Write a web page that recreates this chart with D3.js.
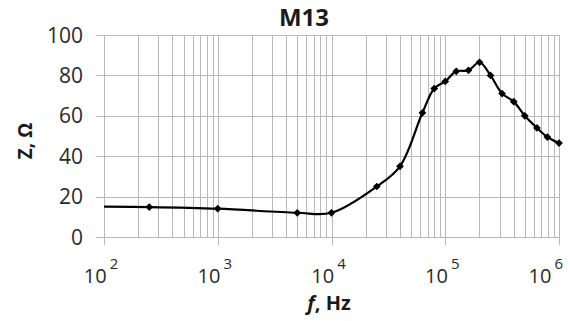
<!DOCTYPE html>
<html>
<head>
<meta charset="utf-8">
<script src="https://cdn.jsdelivr.net/npm/d3@7"></script>
<style>
  body { margin: 0; background: #fff; }
  text { font-family: "Open Sans", "Liberation Sans", sans-serif; fill: #1a1a1a; }
</style>
</head>
<body>
<div id="chart"></div>
<script>
// data
const freq = [100, 250, 1000, 5000, 10000, 25000, 40000, 63000, 80000, 100000,
              125000, 160000, 200000, 250000, 316000, 400000, 500000, 640000, 790000, 1000000];
const impedance = [15, 14.8, 14, 12, 12, 25, 35, 61.5, 73.5, 77,
                   82, 82.5, 86.5, 80, 71, 67, 60, 54, 49.5, 46.5];
const decades = [2, 3, 4, 5, 6];
const yTicks = [0, 20, 40, 60, 80, 100];

const width = 570, height = 321;
const margin = {left: 104, top: 35, right: 11, bottom: 84};
const w = width - margin.left - margin.right;
const h = height - margin.top - margin.bottom;
const gridColor = "#b8b8b8";

const svg = d3.select("#chart")
    .append("svg")
    .attr("width", width)
    .attr("height", height);

const g = svg.append("g")
    .attr("transform", "translate(" + margin.left + "," + margin.top + ")");

const x = d3.scaleLog().domain([100, 1e6]).range([0, w]);
const y = d3.scaleLinear().domain([0, 100]).range([h, 0]);

// vertical grid (minor + major)
const minor = [];
for (let e = 2; e < 6; e++) {
    for (let m = 1; m <= 10; m++) minor.push(m * Math.pow(10, e));
}
g.selectAll(".vgrid")
    .data(minor)
    .enter()
    .append("line")
    .attr("class", "vgrid")
    .attr("x1", d => Math.round(x(d)) + 0.5)
    .attr("x2", d => Math.round(x(d)) + 0.5)
    .attr("y1", 0)
    .attr("y2", h)
    .attr("stroke", gridColor);

// horizontal grid with ticks out to the left
g.selectAll(".hgrid")
    .data(yTicks)
    .enter()
    .append("line")
    .attr("class", "hgrid")
    .attr("x1", -8)
    .attr("x2", w)
    .attr("y1", d => Math.round(y(d)) + 0.5)
    .attr("y2", d => Math.round(y(d)) + 0.5)
    .attr("stroke", gridColor);

// decade ticks below the axis
g.selectAll(".xtick")
    .data(decades)
    .enter()
    .append("line")
    .attr("x1", d => Math.round(x(Math.pow(10, d))) + 0.5)
    .attr("x2", d => Math.round(x(Math.pow(10, d))) + 0.5)
    .attr("y1", h)
    .attr("y2", h + 8)
    .attr("stroke", gridColor);

// y tick labels
g.selectAll(".ylab")
    .data(yTicks)
    .enter()
    .append("text")
    .attr("x", -21)
    .attr("y", d => y(d))
    .attr("dy", "0.36em")
    .attr("text-anchor", "end")
    .attr("font-size", "21px")
    .style("fill", "#2a2a2a")
    .text(d => d);

// x tick labels: 10^n (last one pulled in so it fits)
const xl = g.selectAll(".xlab")
    .data(decades)
    .enter()
    .append("text")
    .attr("x", d => d === 6 ? w + 4 : x(Math.pow(10, d)) - 3)
    .attr("y", h + 46)
    .attr("text-anchor", d => d === 6 ? "end" : "middle")
    .attr("font-size", "20px")
    .style("fill", "#2a2a2a");
xl.append("tspan").text("10");
xl.append("tspan")
    .attr("dy", "-14")
    .attr("dx", "3")
    .attr("font-size", "15px")
    .text(d => d);

// curve
const line = d3.line()
    .x((d, i) => x(freq[i]))
    .y(d => y(d))
    .curve(d3.curveCatmullRom.alpha(0.5));

g.append("path")
    .datum(impedance)
    .attr("fill", "none")
    .attr("stroke", "#000")
    .attr("stroke-width", 2.2)
    .attr("d", line);

// markers (the first point has none)
const marker = d3.symbol().type(d3.symbolSquare).size(30);
g.selectAll(".pt")
    .data(impedance.slice(1))
    .enter()
    .append("path")
    .attr("d", marker)
    .attr("fill", "#000")
    .attr("transform", (d, i) => "translate(" + x(freq[i + 1]) + "," + y(d) + ") rotate(45)");

// title and axis titles
svg.append("text")
    .attr("x", 304)
    .attr("y", 26)
    .attr("text-anchor", "middle")
    .attr("font-size", "24px")
    .attr("font-weight", "bold")
    .text("M13");

svg.append("text")
    .attr("transform", "translate(32,141) rotate(-90)")
    .attr("text-anchor", "middle")
    .attr("font-size", "19px")
    .attr("font-weight", "bold")
    .text("Z, Ω");

const xt = svg.append("text")
    .attr("x", 329)
    .attr("y", 310)
    .attr("text-anchor", "middle")
    .attr("font-size", "20px")
    .attr("font-weight", "bold");
xt.append("tspan").attr("font-style", "italic").text("f");
xt.append("tspan").text(", Hz");
</script>
</body>
</html>
